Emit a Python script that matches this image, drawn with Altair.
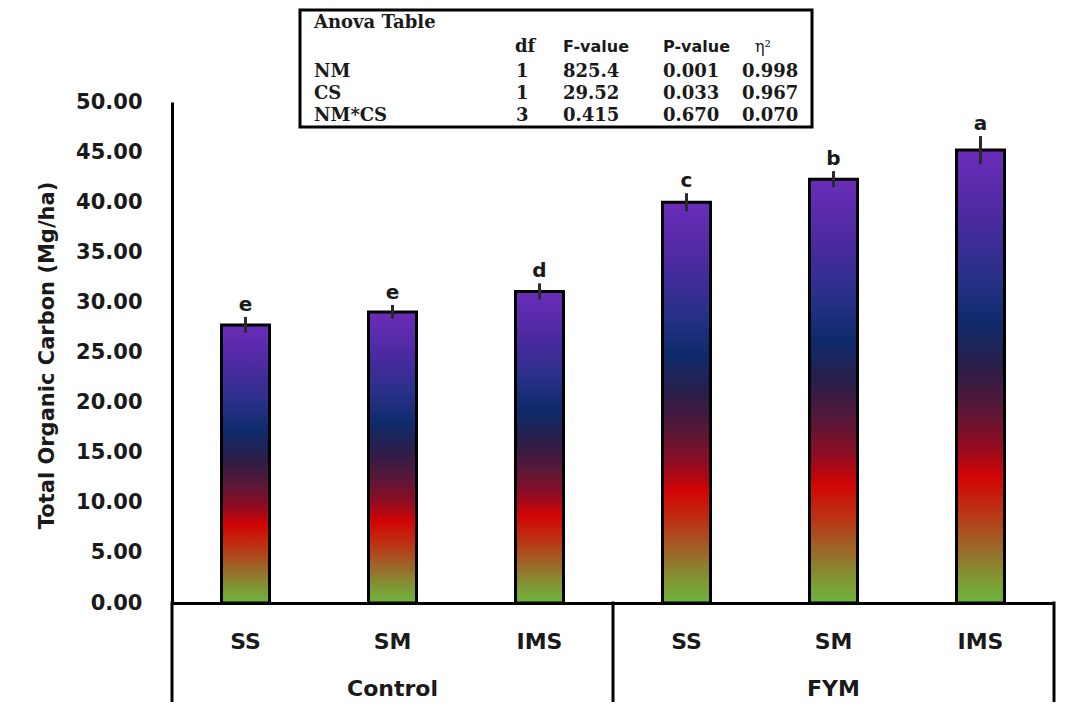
import altair as alt
import pandas as pd

# ---------------- data ----------------
groups = ["Control", "Control", "Control", "FYM", "FYM", "FYM"]
systems = ["SS", "SM", "IMS", "SS", "SM", "IMS"]
toc = [27.75, 29.05, 31.1, 40.0, 42.3, 45.2]
se = [0.8, 0.7, 0.8, 0.9, 0.8, 1.4]
letters = ["e", "e", "d", "c", "b", "a"]
y_ticks = [0, 5, 10, 15, 20, 25, 30, 35, 40, 45, 50]

anova_title = "Anova Table"
anova_terms = ["NM", "CS", "NM*CS"]
anova_dfs = ["1", "1", "3"]
anova_f = ["825.4", "29.52", "0.415"]
anova_p = ["0.001", "0.033", "0.670"]
anova_eta = ["0.998", "0.967", "0.070"]
anova_headers = ["df", "F-value", "P-value", "η²"]

df = pd.DataFrame({
    "group": groups,
    "system": systems,
    "toc": toc,
    "se": se,
    "letter": letters,
})
df["key"] = df["group"] + " " + df["system"]
df["lo"] = df["toc"] - df["se"]
df["hi"] = df["toc"] + df["se"]
order = list(df["key"])

# ---------------- styling ----------------
W, H = 882, 501
SANS = "DejaVu Sans"
SERIF = "DejaVu Serif"
TXT = "#1a1a1a"

grad = alt.Gradient(
    gradient="linear",
    x1=0, x2=0, y1=0, y2=1,
    stops=[
        alt.GradientStop(offset=0.0, color="#6a2cb8"),
        alt.GradientStop(offset=0.15, color="#4b2aa0"),
        alt.GradientStop(offset=0.28, color="#283088"),
        alt.GradientStop(offset=0.38, color="#0e2b6c"),
        alt.GradientStop(offset=0.48, color="#2a1d48"),
        alt.GradientStop(offset=0.57, color="#571838"),
        alt.GradientStop(offset=0.65, color="#8e0c22"),
        alt.GradientStop(offset=0.72, color="#d10404"),
        alt.GradientStop(offset=0.80, color="#bb3414"),
        alt.GradientStop(offset=0.88, color="#9a6a2a"),
        alt.GradientStop(offset=0.95, color="#7e9a34"),
        alt.GradientStop(offset=1.0, color="#6cb53e"),
    ],
)

x_enc = alt.X(
    "key:N", sort=order,
    scale=alt.Scale(paddingInner=0, paddingOuter=0),
    axis=alt.Axis(labels=False, ticks=False, title=None, grid=False,
                  domainColor="black", domainWidth=3),
)
y_scale = alt.Scale(domain=[0, 50], nice=False, zero=True)

base = alt.Chart(df)

bars = base.mark_bar(size=48, fill=grad, stroke="black", strokeWidth=3).encode(
    x=x_enc,
    y=alt.Y(
        "toc:Q", scale=y_scale,
        axis=alt.Axis(
            values=y_ticks, format=".2f", ticks=False, grid=False,
            domainColor="black", domainWidth=3,
            labelFont=SANS, labelFontWeight="bold", labelFontSize=21,
            labelColor=TXT, labelPadding=30,
            title="Total Organic Carbon (Mg/ha)",
            titleFont=SANS, titleFontWeight="bold", titleFontSize=21,
            titleColor=TXT, titleAngle=-90, titleX=-125, titleY=253,
            titleAlign="center", titleBaseline="middle",
        ),
    ),
)

errs = base.mark_rule(color="#2a2a2a", strokeWidth=3).encode(
    x=alt.X("key:N", sort=order),
    y=alt.Y("lo:Q", scale=y_scale),
    y2="hi:Q",
)

lets = base.mark_text(
    baseline="alphabetic", dy=-6, font=SANS, fontWeight="bold",
    fontSize=20, color=TXT,
).encode(
    x=alt.X("key:N", sort=order),
    y=alt.Y("hi:Q", scale=y_scale),
    text="letter:N",
)

sys_labels = base.mark_text(
    baseline="middle", font=SANS, fontWeight="bold", fontSize=22, color=TXT,
).encode(
    x=alt.X("key:N", sort=order),
    y=alt.value(540),
    text="system:N",
)

grp_labels = base.transform_filter(alt.datum.system == "SM").mark_text(
    baseline="middle", font=SANS, fontWeight="bold", fontSize=22, color=TXT,
).encode(
    x=alt.X("key:N", sort=order),
    y=alt.value(587),
    text="group:N",
)

one = alt.Data(values=[{}])


def vrule(xp):
    return alt.Chart(one).mark_rule(color="black", strokeWidth=3, strokeCap="square").encode(
        x=alt.value(xp), y=alt.value(H), y2=alt.value(H + 110)
    )


rules = [vrule(0), vrule(W / 2), vrule(W)]

box = alt.Chart(one).mark_rect(fill="white", stroke="black", strokeWidth=3).encode(
    x=alt.value(128), x2=alt.value(640), y=alt.value(-92), y2=alt.value(25)
)


def ttext(txt, xp, yp, font=SERIF, size=18, align="left", weight="bold"):
    return alt.Chart(one).mark_text(
        align=align, baseline="middle", font=font, fontSize=size,
        fontWeight=weight, color=TXT, lineHeight=22,
    ).encode(x=alt.value(xp), y=alt.value(yp), text=alt.value(txt))


table = [
    box,
    ttext(anova_title, 142, -79),
    ttext(anova_headers[0], 343, -55),
    ttext(anova_headers[1], 391, -55, font=SANS, size=16),
    ttext(anova_headers[2], 491, -55, font=SANS, size=16),
    ttext(anova_headers[3], 591, -55, font=SERIF, size=16, align="center", weight="normal"),
    ttext(anova_terms, 142, -30),
    ttext(anova_dfs, 344, -30),
    ttext(anova_f, 391, -30),
    ttext(anova_p, 491, -30),
    ttext(anova_eta, 570, -30),
]

chart = alt.layer(
    bars, errs, lets, sys_labels, grp_labels, *rules, *table
).properties(
    width=W, height=H,
    autosize=alt.AutoSizeParams(type="none"),
    padding={"left": 164, "top": 94, "right": 2, "bottom": 99},
    background="white",
).configure_view(stroke=None)

chart.save("out.html", embed_options={"renderer": "svg", "actions": False})
